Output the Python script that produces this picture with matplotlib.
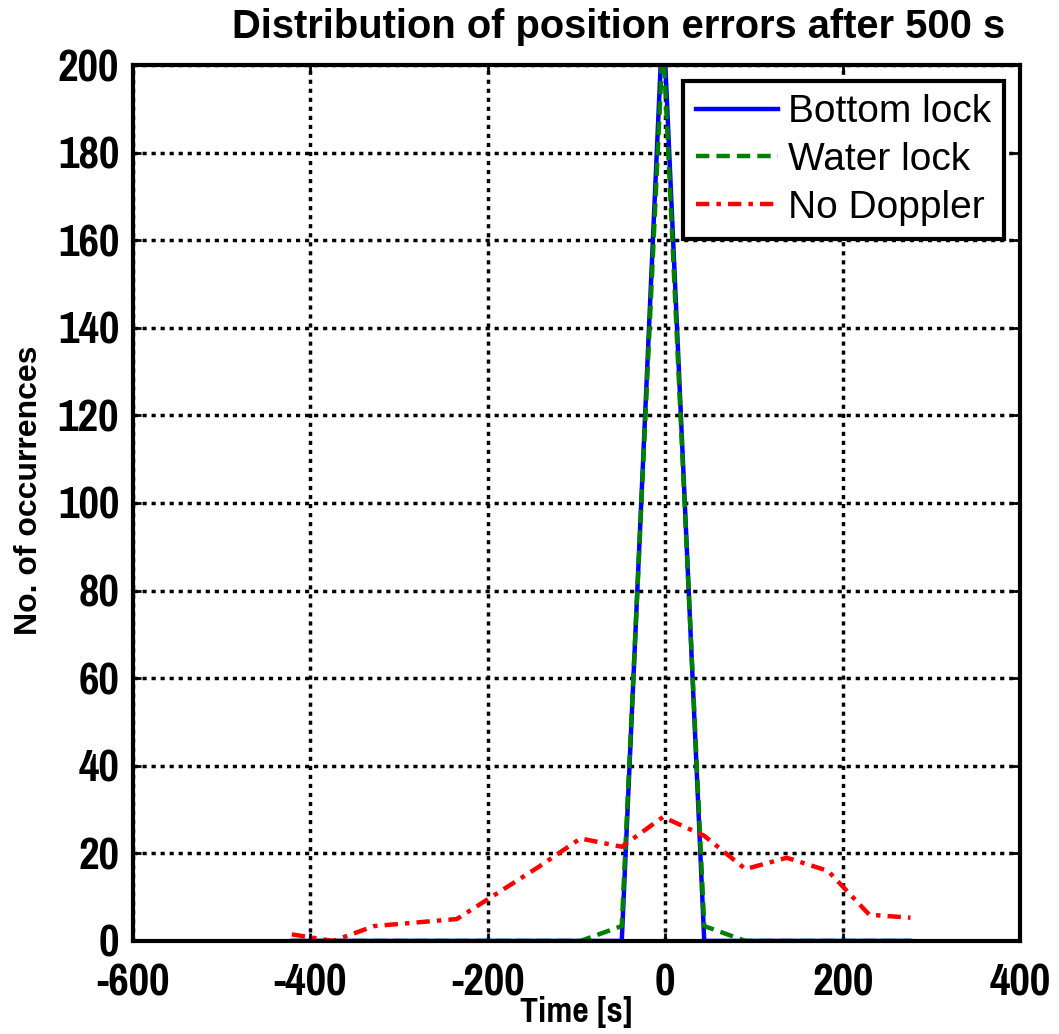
import numpy as np
import matplotlib.pyplot as plt

plt.rcParams['axes.unicode_minus'] = False

# bin centres [s] and histogram counts
t = [-421, -374.5, -328, -281.5, -235, -188.5, -142, -95.5,
     -49, -2.5, 44, 90.5, 137, 183.5, 230, 276.5]
bottom_lock = [0, 0, 0, 0, 0, 0, 0, 0, 0, 212, 0, 0, 0, 0, 0, 0]
water_lock = [0, 0, 0, 0, 0, 0, 0, 0, 3.4, 206, 3.4, 0, 0, 0, 0, 0]
no_doppler = [1.5, 0, 3.4, 4.2, 5, 11, 17, 23.4, 21.5, 28.3, 24, 16.4, 19, 16, 6, 5.3]

narrow = ['Pragati Narrow', 'Liberation Sans', 'DejaVu Sans']

fig = plt.figure(figsize=(10.59, 10.34), dpi=100)
ax = fig.add_axes([0.1256, 0.09, 0.8376, 0.8471])

ax.plot(t, bottom_lock, '-', color='blue', lw=3.2, label='Bottom lock')
ax.plot(t, water_lock, '--', color='green', lw=3.2, dashes=(3, 1.6), label='Water lock')
ax.plot(t, no_doppler, '-.', color='red', lw=3.2, dashes=(3, 1.6, 1, 1.6), label='No Doppler')

ax.set_xlim(-600, 400)
ax.set_ylim(0, 200)
ax.set_xticks(np.arange(-600, 401, 200))
ax.set_yticks(np.arange(0, 201, 20))
ax.grid(True, color='black', linestyle=(0, (1.2, 1.4)), linewidth=2.5)
ax.tick_params(direction='in', length=6, width=2, top=True, right=True)
ax.tick_params(axis='x', pad=16)
ax.tick_params(axis='y', pad=10)
for lab in ax.get_xticklabels() + ax.get_yticklabels():
    lab.set_fontfamily(narrow)
    lab.set_fontweight('bold')
    lab.set_fontsize(35)
for s in ax.spines.values():
    s.set_linewidth(3)

fig.text(1005 / 1059, 1 - 38 / 1034, 'Distribution of position errors after 500 s',
         fontsize=28.7, fontweight='bold', family='Liberation Sans', ha='right', va='baseline')
ax.set_xlabel('Time [s]', fontsize=28, fontweight='bold', family=narrow)
ax.xaxis.set_label_coords(0.5, -0.063)
ax.set_ylabel('No. of occurrences', fontsize=23, fontweight='bold', family='Liberation Sans')
ax.yaxis.set_label_coords(-0.1, 0.515)

leg = ax.legend(loc='upper right', prop={'family': 'Liberation Sans', 'size': 28},
                fancybox=False, framealpha=1, edgecolor='black', borderpad=0.35,
                handlelength=2.1, handletextpad=0.25, labelspacing=0.3,
                borderaxespad=0.4)
leg.get_frame().set_linewidth(3)

fig.savefig('out.png', dpi=100)
